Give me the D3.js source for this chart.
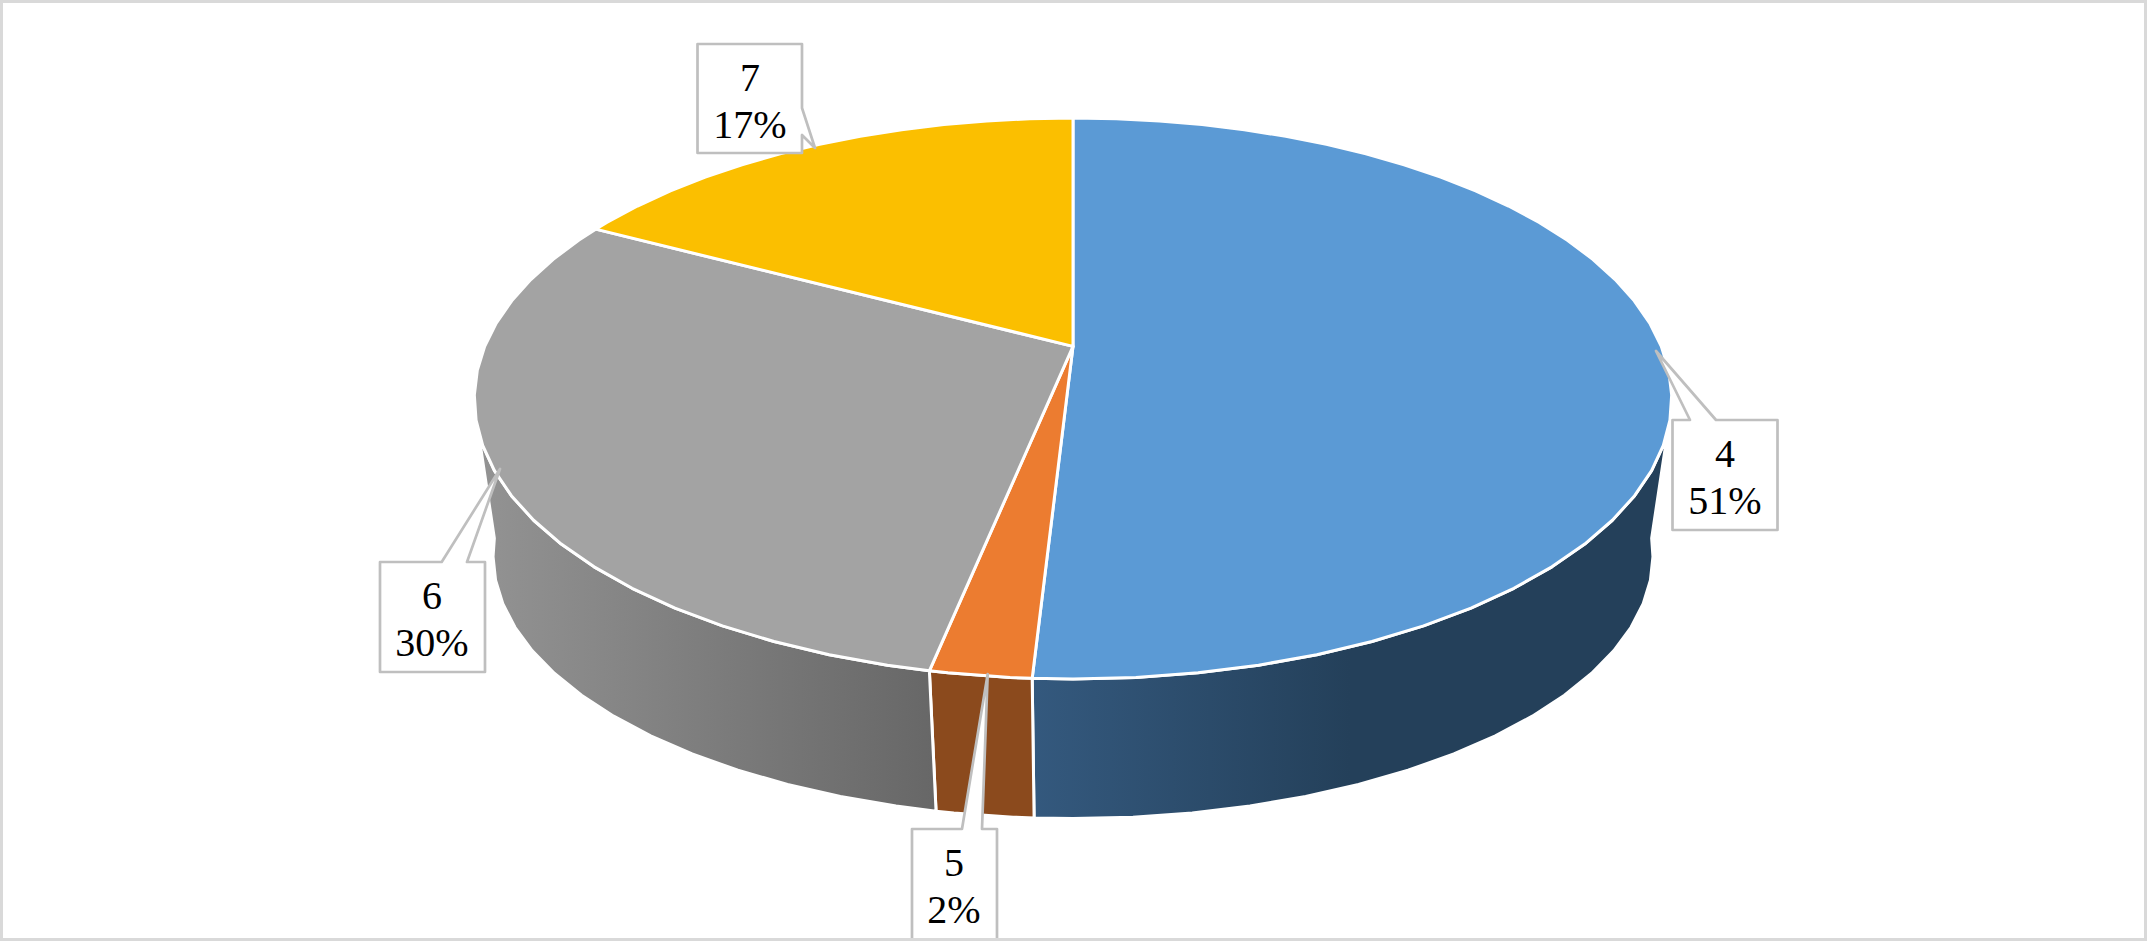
<!DOCTYPE html>
<html>
<head>
<meta charset="utf-8">
<script src="https://cdn.jsdelivr.net/npm/d3@7/dist/d3.min.js"></script>
<style>
html,body{margin:0;padding:0;background:#fff;overflow:hidden}
svg{display:block}
text{font-family:"Liberation Serif",serif;fill:#000}
</style>
</head>
<body>
<svg id="chart" width="2147" height="941"></svg>
<script>
// Data
const categories = ["4", "5", "6", "7"];
const shares = [50.9, 2.3, 29.6, 17.2];
const topColors = ["#5B9AD5", "#EC7C30", "#A3A3A3", "#FBBF00"];
const wallStops = [
  [[0, "#34597E"], [0.5, "#24405A"], [1, "#24405A"]],
  [[0, "#8B4A1D"], [1, "#8B4A1D"]],
  [[0, "#939393"], [1, "#676767"]],
  [[0, "#8B6900"], [1, "#8B6900"]]
];

// Projection of the tilted disc: unit circle -> page, with perspective
const W = 2147, H = 941, X0 = 1073;
const topPlane = {a: 206.5, b: 346.4, c: -0.1857, k: 588.3};
const basePlane = {a: 168.3, b: 511.1, c: -0.17, k: 571.5};
function project(plane, angle) {
  const u = Math.sin(angle), v = -Math.cos(angle);
  const d = 1 + plane.c * v;
  return [X0 + plane.k * u / d, (plane.a * v + plane.b) / d];
}
const STEP = 5 * Math.PI / 180;
function sampleAngles(a0, a1) {
  const out = [a0];
  const start = Math.ceil(a0 / STEP + 1e-6);
  for (let i = start; i * STEP < a1 - 1e-6; i++) out.push(i * STEP);
  out.push(a1);
  return out;
}

const pie = d3.pie().sort(null).value(d => d)(shares);
const svg = d3.select("#chart");
const defs = svg.append("defs");
const line = d3.line();

svg.append("rect").attr("width", W).attr("height", H).attr("fill", "#fff");

// Visible part of the side wall
const wallTopFrom = 107 * Math.PI / 180, wallTopTo = 253 * Math.PI / 180;
const wallBaseFrom = 96 * Math.PI / 180, wallBaseTo = 264 * Math.PI / 180;

const walls = pie.map((d, i) => {
  const t0 = Math.max(d.startAngle, wallTopFrom), t1 = Math.min(d.endAngle, wallTopTo);
  if (t1 <= t0) return null;
  const b0 = d.startAngle <= wallTopFrom ? wallBaseFrom : t0;
  const b1 = d.endAngle >= wallTopTo ? wallBaseTo : t1;
  const pts = sampleAngles(t0, t1).map(a => project(topPlane, a))
    .concat(sampleAngles(b0, b1).reverse().map(a => project(basePlane, a)));
  return {i, pts};
}).filter(Boolean);

walls.forEach(w => {
  const xs = d3.extent(w.pts, p => p[0]);
  const g = defs.append("linearGradient").attr("id", "wall" + w.i)
    .attr("gradientUnits", "userSpaceOnUse")
    .attr("x1", xs[0]).attr("x2", xs[1]).attr("y1", 0).attr("y2", 0);
  wallStops[w.i].forEach(s => g.append("stop").attr("offset", s[0]).attr("stop-color", s[1]));
});

svg.append("g").selectAll("path").data(walls).join("path")
  .attr("d", w => line(w.pts) + "Z")
  .attr("fill", w => `url(#wall${w.i})`)
  .attr("stroke", "#fff").attr("stroke-width", 3).attr("stroke-linejoin", "round");

// Top face
const apex = [X0, topPlane.b];
svg.append("g").selectAll("path").data(pie).join("path")
  .attr("d", d => line([apex].concat(sampleAngles(d.startAngle, d.endAngle).map(a => project(topPlane, a)))) + "Z")
  .attr("fill", (d, i) => topColors[i])
  .attr("stroke", "#fff").attr("stroke-width", 3).attr("stroke-linejoin", "round");

// Frame
svg.append("rect").attr("x", 1.5).attr("y", 1.5).attr("width", W - 3).attr("height", H - 3)
  .attr("fill", "none").attr("stroke", "#D9D9D9").attr("stroke-width", 3);

// Data label callouts
const calloutShapes = [
  {box: [1672.5, 420, 1777.5, 530], ptr: [[1716, 420], [1656, 351], [1690, 420]], side: "top", cx: 1725, base: [466.7, 514]},
  {box: [912, 829, 997, 960], ptr: [[982, 829], [987.7, 674], [962, 829]], side: "top", cx: 954, base: [875.7, 923]},
  {box: [380, 562, 485, 672], ptr: [[467, 562], [500, 469], [441.7, 562]], side: "top", cx: 432, base: [609, 656]},
  {box: [697.5, 44, 802, 153], ptr: [[802, 135], [815, 148], [802, 108]], side: "right", cx: 750, base: [90.7, 137.7]}
];
const percent = d3.format(".0f");
const labels = svg.append("g");
calloutShapes.forEach((c, i) => {
  const [l, t, r, b] = c.box;
  const outline = c.side === "top"
    ? [[l, t], ...c.ptr.slice().reverse(), [r, t], [r, b], [l, b]]
    : [[l, t], [r, t], ...c.ptr.slice().reverse(), [r, b], [l, b]];
  labels.append("path").attr("d", line(outline) + "Z")
    .attr("fill", "#fff").attr("stroke", "#BFBFBF").attr("stroke-width", 2.7)
    .attr("stroke-linejoin", "round");
  labels.append("text").attr("x", c.cx).attr("y", c.base[0]).attr("text-anchor", "middle")
    .attr("font-size", 40).text(categories[i]);
  labels.append("text").attr("x", c.cx).attr("y", c.base[1]).attr("text-anchor", "middle")
    .attr("font-size", 40).text(percent(shares[i]) + "%");
});
// The lower frame edge passes over the clipped label
svg.append("rect").attr("x", 0).attr("y", H - 3).attr("width", W).attr("height", 3).attr("fill", "#D9D9D9");
</script>
</body>
</html>
